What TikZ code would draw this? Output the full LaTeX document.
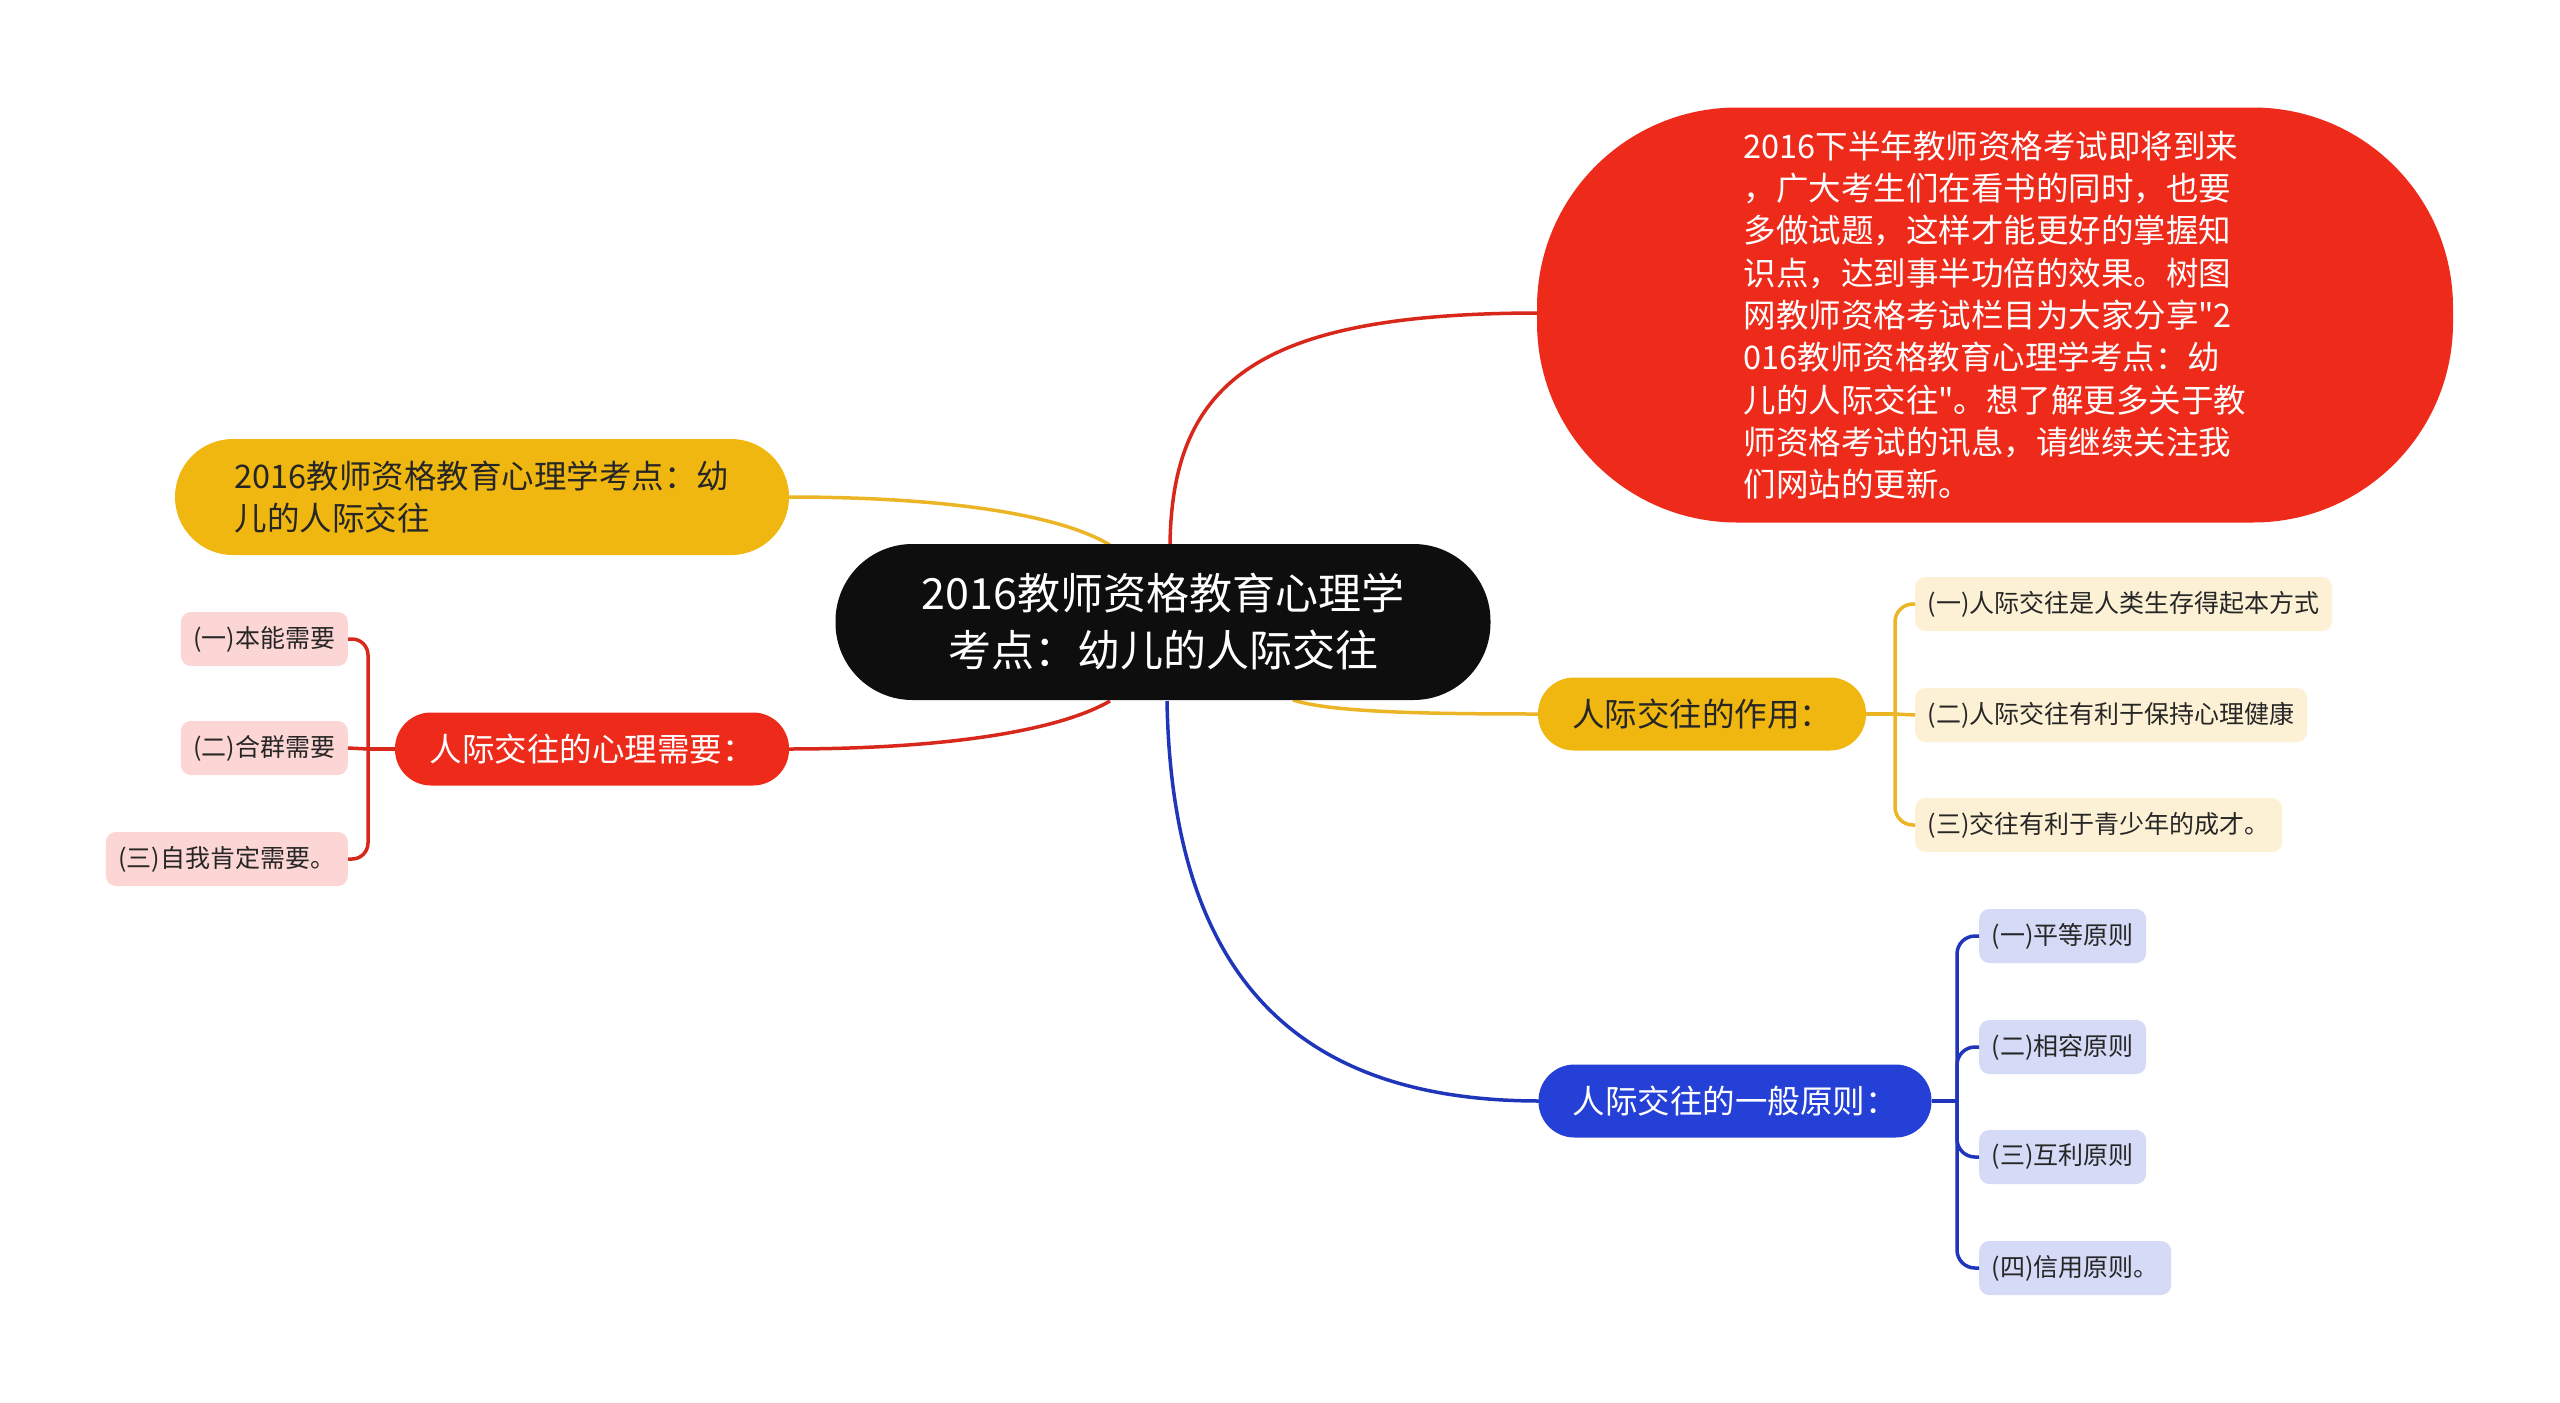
\documentclass[tikz,border=0pt]{standalone}
\usepackage{fontspec}
\setmainfont{Noto Sans CJK SC}
\newfontfamily\mapfont{Noto Sans CJK SC}
\usepackage{tikz}
\usetikzlibrary{calc}
\usepackage{xcolor}

\definecolor{rootblack}{HTML}{0E0E0E}
\definecolor{mapred}{HTML}{EE2A1B}
\definecolor{mapgold}{HTML}{EFB70F}
\definecolor{mapblue}{HTML}{2540D6}
\definecolor{linered}{HTML}{D8271B}
\definecolor{linegold}{HTML}{EBB526}
\definecolor{lineblue}{HTML}{1F36BA}
\definecolor{leafpink}{HTML}{FBD6D4}
\definecolor{leafcream}{HTML}{FDF1D5}
\definecolor{leaflav}{HTML}{D5DAF6}
\definecolor{darktext}{HTML}{262626}

\tikzset{
    topic/.style={rounded corners=36pt, minimum height=73pt, inner xsep=8pt,
        font=\mapfont\fontsize{32.5}{42}\selectfont},
    leaf/.style={rounded corners=10pt, minimum height=54pt, inner xsep=12.5pt,
        text=darktext, font=\mapfont\fontsize{25}{30}\selectfont},
    link/.style={line width=3.5pt}
}

\begin{document}
\begin{tikzpicture}[x=1pt, y=-1pt]
    \useasboundingbox (0,0) rectangle (2560,1403);

    % connectors from the root (drawn first)
    \coordinate (rootnw) at (1110,545);
    \coordinate (rootne) at (1170,545);
    \coordinate (rootsw) at (1110,701);
    \coordinate (rootsb) at (1167,701);
    \coordinate (rootse) at (1293,700);
    \draw[link, linered] (rootne) .. controls (1172,380) and (1260,313) .. (1540,313);
    \draw[link, linegold] (rootnw) .. controls (1060,515) and (950,497) .. (787,497);
    \draw[link, linered] (rootsw) .. controls (1060,730) and (950,749) .. (787,749);
    \draw[link, linegold] (rootse) .. controls (1330,712) and (1420,714) .. (1540,714);
    \draw[link, lineblue] (rootsb) .. controls (1172,980) and (1300,1101) .. (1540,1101);

    % root
    \node[fill=rootblack, text=white, rounded corners=77pt, minimum width=655pt,
        minimum height=156pt, align=center, font=\mapfont\fontsize{43}{57}\selectfont]
        (root) at (1163,622) {2016教师资格教育心理学\\考点：幼儿的人际交往};

    % main topics
    \node[fill=mapred, text=white, rounded corners=200pt, minimum width=916pt,
        minimum height=415pt, align=left,
        font=\mapfont\fontsize{32.5}{42.3}\selectfont] (intro) at (1995,315)
        {2016下半年教师资格考试即将到来\\，广大考生们在看书的同时，也要\\多做试题，这样才能更好的掌握知\\识点，达到事半功倍的效果。树图\\网教师资格考试栏目为大家分享"2\\016教师资格教育心理学考点：幼\\儿的人际交往"。想了解更多关于教\\师资格考试的讯息，请继续关注我\\们网站的更新。};
    \node[fill=mapgold, text=darktext, rounded corners=58pt, minimum width=614pt,
        minimum height=116pt, align=left,
        font=\mapfont\fontsize{32.5}{42}\selectfont] (title) at (482,497)
        {2016教师资格教育心理学考点：幼\\儿的人际交往};
    \node[topic, fill=mapred, text=white, minimum width=394pt] (need) at (592,749) {人际交往的心理需要：};
    \node[topic, fill=mapgold, text=darktext, minimum width=328pt] (effect) at (1702,714) {人际交往的作用：};
    \node[topic, fill=mapblue, text=white, minimum width=393pt] (principle) at (1735,1101) {人际交往的一般原则：};

    % leaves of need
    \node[leaf, fill=leafpink, anchor=east] (need1) at (348,639) {(一)本能需要};
    \node[leaf, fill=leafpink, anchor=east] (need2) at (348,748) {(二)合群需要};
    \node[leaf, fill=leafpink, anchor=east] (need3) at (348,859) {(三)自我肯定需要。};
    \coordinate (needj) at (368,749);
    \draw[link, linered] (need.west) -- (needj);
    \draw[link, linered, rounded corners=16pt] (needj) |- (need1.east);
    \draw[link, linered] (needj) -- (need2.east);
    \draw[link, linered, rounded corners=16pt] (needj) |- (need3.east);

    % leaves of effect
    \node[leaf, fill=leafcream, anchor=west] (effect1) at (1915,604) {(一)人际交往是人类生存得起本方式};
    \node[leaf, fill=leafcream, anchor=west] (effect2) at (1915,715) {(二)人际交往有利于保持心理健康};
    \node[leaf, fill=leafcream, anchor=west] (effect3) at (1915,825) {(三)交往有利于青少年的成才。};
    \coordinate (effectj) at (1895,714);
    \draw[link, linegold] (effect.east) -- (effectj);
    \draw[link, linegold, rounded corners=18pt] (effectj) |- (effect1.west);
    \draw[link, linegold] (effectj) -- (effect2.west);
    \draw[link, linegold, rounded corners=18pt] (effectj) |- (effect3.west);

    % leaves of principle
    \node[leaf, fill=leaflav, anchor=west] (principle1) at (1979,936) {(一)平等原则};
    \node[leaf, fill=leaflav, anchor=west] (principle2) at (1979,1047) {(二)相容原则};
    \node[leaf, fill=leaflav, anchor=west] (principle3) at (1979,1157) {(三)互利原则};
    \node[leaf, fill=leaflav, anchor=west] (principle4) at (1979,1268) {(四)信用原则。};
    \coordinate (principlej) at (1957,1101);
    \draw[link, lineblue] (principle.east) -- (principlej);
    \draw[link, lineblue, rounded corners=18pt] (principlej) |- (principle1.west);
    \draw[link, lineblue, rounded corners=18pt] (principlej) |- (principle2.west);
    \draw[link, lineblue, rounded corners=18pt] (principlej) |- (principle3.west);
    \draw[link, lineblue, rounded corners=18pt] (principlej) |- (principle4.west);
\end{tikzpicture}
\end{document}
